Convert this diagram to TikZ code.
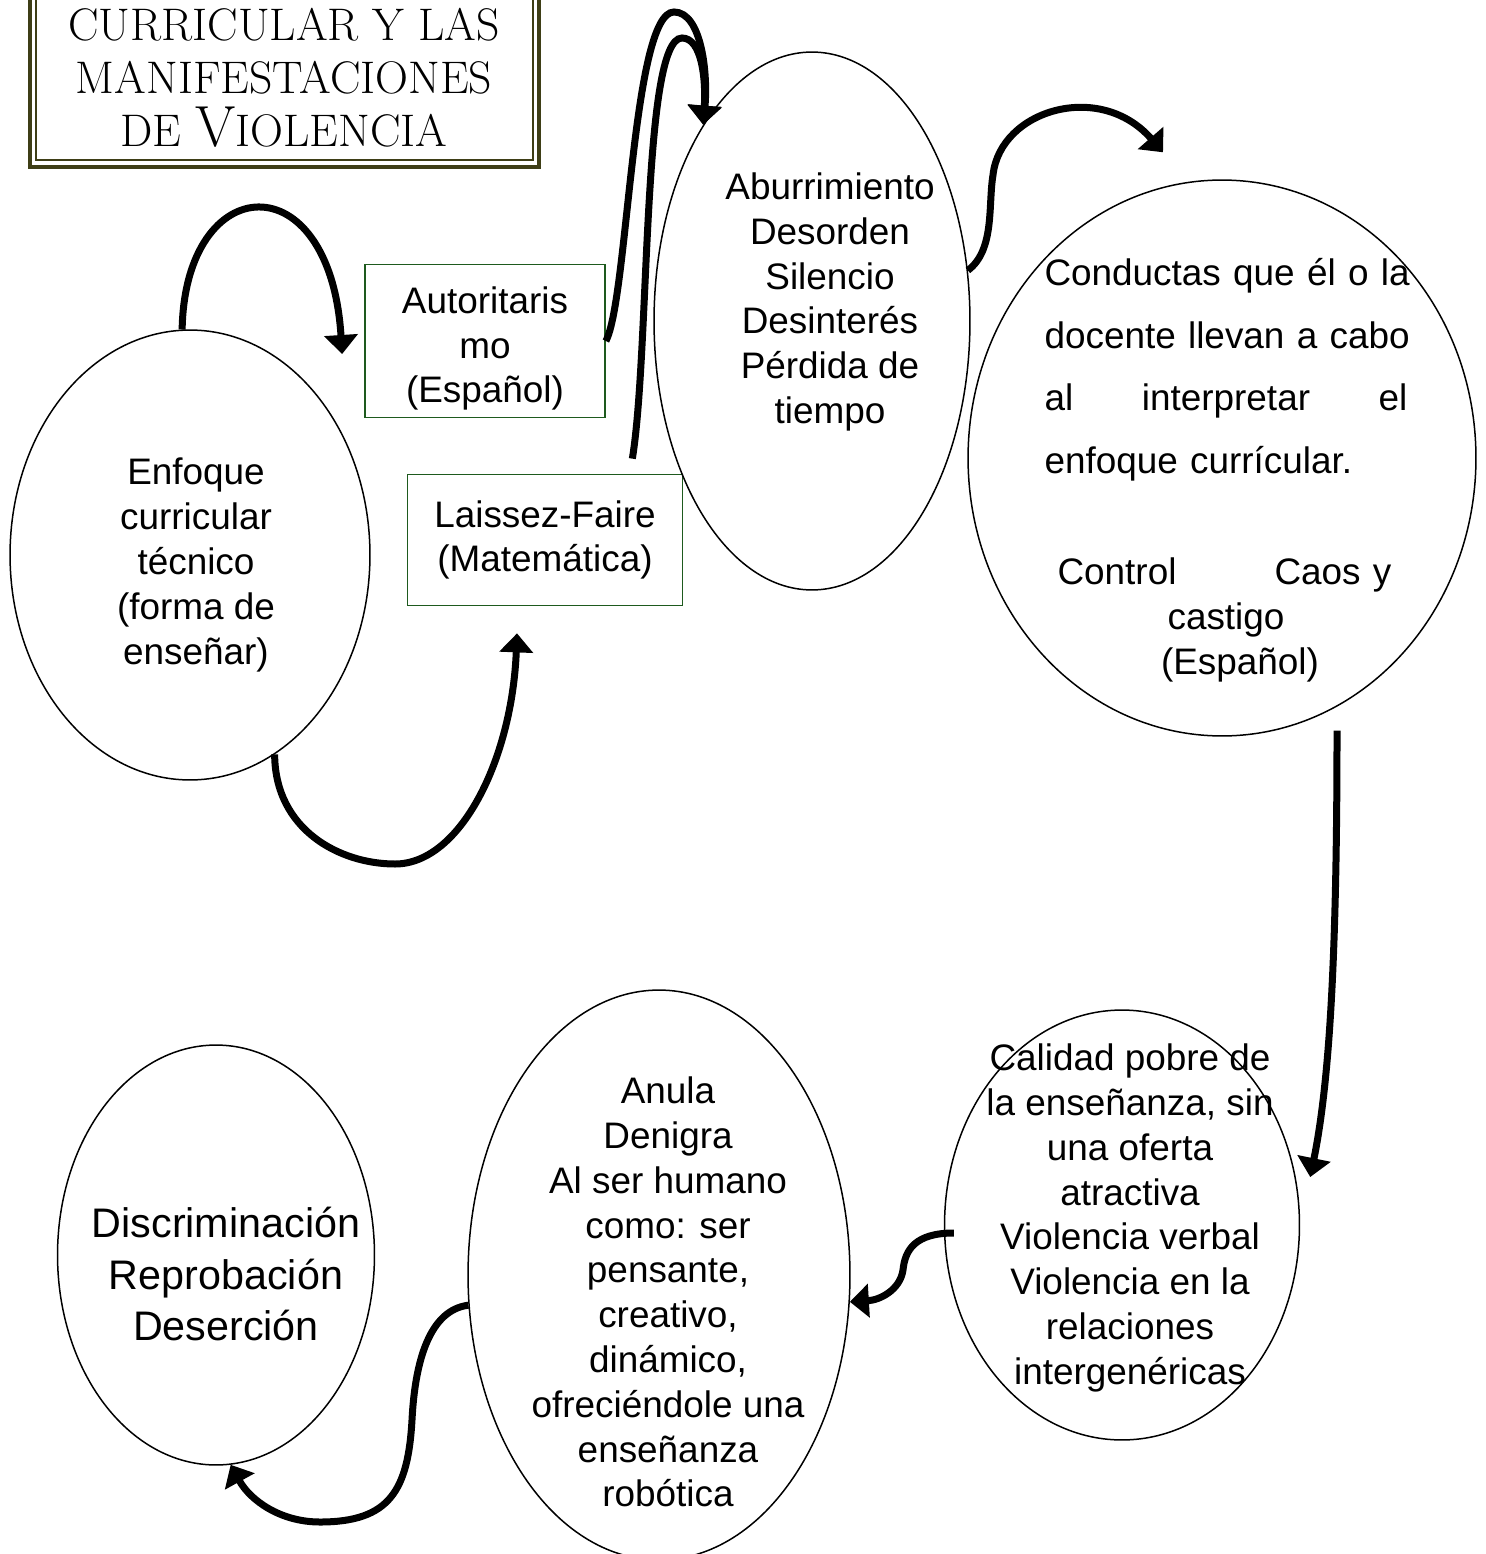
\documentclass[tikz,border=0pt]{standalone}
\usepackage{fontspec}
\setmainfont{Liberation Sans}
\usetikzlibrary{shapes.geometric, arrows.meta, calc}

\definecolor{verdecaja}{RGB}{30,90,30}
\definecolor{marco}{RGB}{62,62,22}

\begin{document}
\begin{tikzpicture}[
		x=0.02cm, y=-0.02cm,
		elipse/.style = {ellipse, draw=black, line width=0.03cm, inner sep=0pt},
		caja/.style   = {rectangle, draw=verdecaja, line width=0.035cm, inner sep=0pt, align=center, font=\fontsize{21}{25.5}\selectfont},
		texto/.style  = {align=center, inner sep=0pt, font=\fontsize{21}{25.5}\selectfont},
		flecha/.style = {-{Triangle[length=0.38cm, width=0.66cm]}, line width=0.14cm}
		]
		
		\useasboundingbox (0,0) rectangle (1485,1554);
		\clip (0,0) rectangle (1485,1554);
		
		%Titulo
		\draw[marco, line width=0.08cm]	(30,-20) rectangle (539,167);
		\draw[marco, line width=0.03cm]	(36,-20) rectangle (533,160);
		\node[align=center, inner sep=0pt, font=\fontfamily{lmr}\fontsize{26}{30}\selectfont]
			(titulo) at (284,78) {CURRICULAR Y LAS\\MANIFESTACIONES\\DE {\fontsize{33}{30}\selectfont V}IOLENCIA};
		
		%Nodos
		\node[elipse, minimum width=7.2cm, minimum height=9cm]		(enfoque)	at (190,555)	{};
		\node[texto]	(enfoqueT)	at (196,565)	{Enfoque\\curricular\\técnico\\(forma de\\enseñar)};
		
		\node[caja, minimum width=4.8cm, minimum height=3.06cm]	(autor)		at (485,341)	{\rule{0pt}{0.84cm}Autoritaris\\mo\\(Español)};
		\node[caja, minimum width=5.5cm, minimum height=2.62cm]	(laissez)	at (545,540)	{Laissez-Faire\\(Matemática)};
		
		\node[elipse, minimum width=6.32cm, minimum height=10.76cm]	(aburr)	at (812,321)	{};
		\node[texto]	(aburrT)	at (830,302)	{Aburrimiento\\Desorden\\Silencio\\Desinterés\\Pérdida de\\tiempo};
		
		\node[elipse, minimum width=10.16cm, minimum height=11.12cm]	(conductas)	at (1222,458)	{};
		\node[texto, text width=7.26cm, align=left]	(conductasT)	at (1226,470) {%
			\makebox[\linewidth][l]{Conductas que él o la}\\[0.36cm]
			\makebox[\linewidth][l]{docente llevan a cabo}\\[0.36cm]
			\makebox[\linewidth]{al\hfill interpretar\hfill el}\\[0.36cm]
			enfoque currícular.\\[1.32cm]
			\hspace*{0.26cm}\makebox[6.68cm]{Control\hfill Caos y}\\
			\makebox[\linewidth][c]{castigo}\\
			\makebox[\linewidth][c]{\hspace{0.56cm}(Español)}};
		
		\node[elipse, minimum width=7.1cm, minimum height=8.6cm]	(calidad)	at (1122,1225)	{};
		\node[texto]	(calidadT)	at (1130,1218)	{Calidad pobre de\\la enseñanza, sin\\una oferta\\atractiva\\Violencia verbal\\Violencia en la\\relaciones\\intergenéricas};
		
		\node[elipse, minimum width=7.64cm, minimum height=11.4cm]	(anula)	at (659,1275)	{};
		\node[texto]	(anulaT)	at (668,1292)	{Anula\\Denigra\\Al ser humano\\como: ser\\pensante,\\creativo,\\dinámico,\\ofreciéndole una\\enseñanza\\robótica};
		
		\node[elipse, minimum width=6.34cm, minimum height=8.4cm]	(discrim)	at (216,1255)	{};
		\node[texto, font=\fontsize{23.5}{29.5}\selectfont]	(discrimT)	at (226,1274)	{Discriminación\\Reprobación\\Deserción};
		
		%Flechas
		\draw[flecha]	(enfoque.92) .. controls (185,170) and (330,160) .. ($(autor.west)+(-22,13)$);
		\draw[flecha]	(autor.east) .. controls (628,300) and (632,12) .. (674,12)
						.. controls (702,12) and (708,75) .. (aburr.119);
		\draw[flecha]	($(laissez.north east)+(-51,-15)$) .. controls (650,350) and (642,38) .. (682,38)
						.. controls (702,38) and (706,80) .. (aburr.119);
		\draw[flecha]	(aburr.18) .. controls (995,250) and (988,205) .. (993,175)
						.. controls (1000,110) and (1100,80) .. ($(conductas.north)+(-59,-27)$);
		\draw[flecha]	($(conductas.south)+(115,-6)$) .. controls (1337,950) and (1330,1080) .. ($(calidad.east)+(10,-48)$);
		\draw[flecha]	($(calidad.west)+(10,8)$) .. controls (915,1233) and (905,1250) .. (903,1270)
						.. controls (900,1290) and (880,1300) .. (anula.-8);
		\draw[flecha]	(anula.189) .. controls (430,1310) and (415,1360) .. (412,1420)
						.. controls (408,1490) and (390,1522) .. (320,1522)
						.. controls (280,1522) and (250,1500) .. (discrim.-86);
		\draw[flecha]	(enfoque.-67) .. controls (275,830) and (340,864) .. (395,864)
						.. controls (460,864) and (512,760) .. ($(laissez.south)+(-28,27)$);
	\end{tikzpicture}
\end{document}
